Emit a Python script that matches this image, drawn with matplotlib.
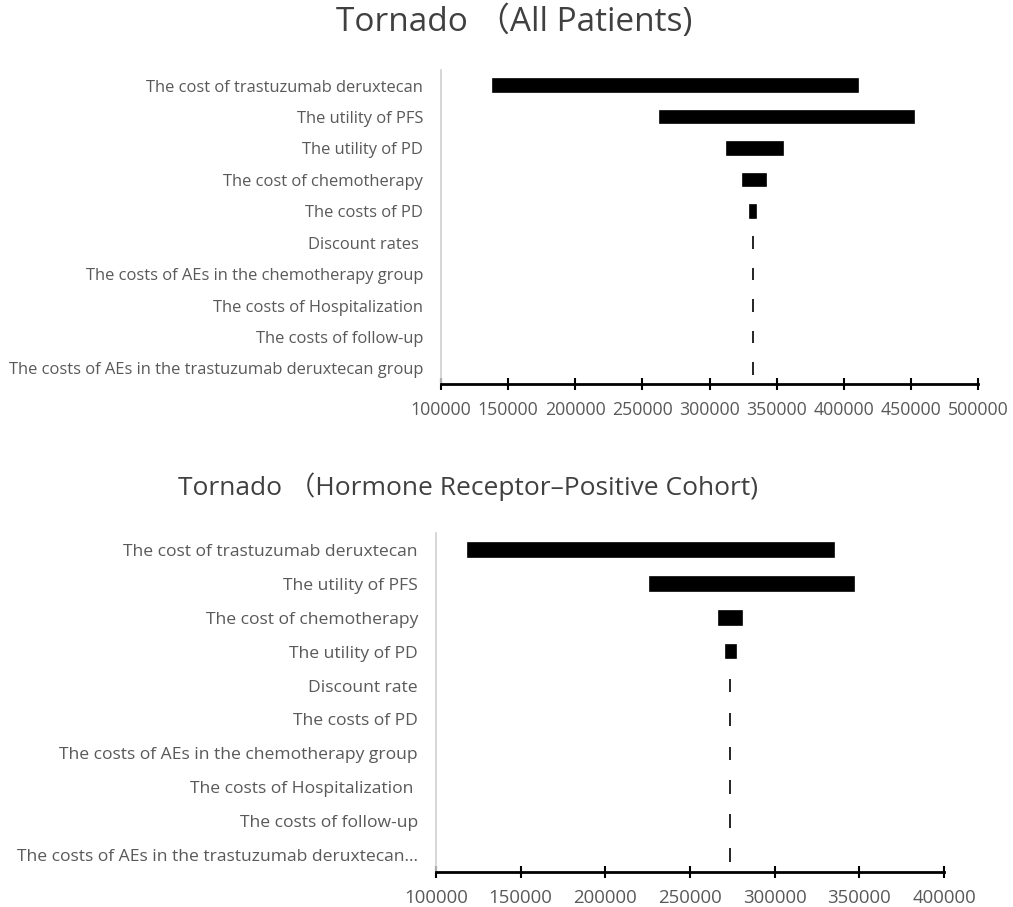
import matplotlib.pyplot as plt
import numpy as np

plt.rcParams['font.family'] = ['Open Sans', 'Noto Sans CJK SC', 'DejaVu Sans']

# All patients
labels_all = ['The cost of trastuzumab deruxtecan', 'The utility of PFS', 'The utility of PD',
              'The cost of chemotherapy', 'The costs of PD', 'Discount rates ',
              'The costs of AEs in the chemotherapy group', 'The costs of Hospitalization',
              'The costs of follow-up', 'The costs of AEs in the trastuzumab deruxtecan group']
low_all = [138800, 262900, 313200, 324600, 330400, 332500, 332600, 332600, 332600, 332600]
high_all = [410400, 452200, 355100, 341900, 334700, 332500, 332600, 332600, 332600, 332600]
ticks_all = [100000, 150000, 200000, 250000, 300000, 350000, 400000, 450000, 500000]

# Hormone receptor-positive cohort
labels_hr = ['The cost of trastuzumab deruxtecan', 'The utility of PFS', 'The cost of chemotherapy',
             'The utility of PD', 'Discount rate', 'The costs of PD',
             'The costs of AEs in the chemotherapy group', 'The costs of Hospitalization ',
             'The costs of follow-up', 'The costs of AEs in the trastuzumab deruxtecan...']
low_hr = [118800, 226200, 267200, 271200, 273700, 273700, 273800, 273800, 273800, 273800]
high_hr = [335300, 346900, 280600, 277200, 273700, 273700, 273800, 273800, 273800, 273800]
ticks_hr = [100000, 150000, 200000, 250000, 300000, 350000, 400000]

grey = '#595959'
W, H = 1013, 907
fig = plt.figure(figsize=(W / 100, H / 100), dpi=100)


def tornado(rect, labels, low, high, ticks, title, title_x, title_y, title_size, fs, tfs):
    ax = fig.add_axes(rect)
    y = np.arange(len(labels))
    width = np.array(high) - np.array(low)
    ax.barh(y, width, left=low, height=0.4, color='black', edgecolor='black', linewidth=1.2)
    ax.set_ylim(len(labels) - 0.5, -0.5)
    ax.set_xlim(ticks[0], ticks[-1])
    ax.set_yticks(y)
    ax.set_yticklabels(labels, fontsize=fs, color=grey)
    ax.set_xticks(ticks)
    ax.set_xticklabels([str(t) for t in ticks], fontsize=tfs, color=grey)
    ax.tick_params(axis='y', length=0, pad=13)
    ax.tick_params(axis='x', direction='inout', length=9, width=1.5, color='black', pad=8)
    for s in ['top', 'right']:
        ax.spines[s].set_visible(False)
    ax.spines['left'].set_color('#d0d0d0')
    ax.spines['left'].set_linewidth(1.2)
    ax.spines['bottom'].set_color('black')
    ax.spines['bottom'].set_linewidth(2)
    fig.text(title_x, title_y, title, fontsize=title_size, color='#404040',
             ha='center', va='center')
    return ax


tornado([441 / W, 1 - 384 / H, 537 / W, (384 - 70) / H], labels_all, low_all, high_all,
        ticks_all, 'Tornado （All Patients)', 514 / W, 1 - 22 / H, 24, 11.9, 12.8)
tornado([436 / W, 1 - 872 / H, 508 / W, (872 - 533) / H], labels_hr, low_hr, high_hr,
        ticks_hr, 'Tornado （Hormone Receptor–Positive Cohort)', 468 / W, 1 - 487 / H, 19,
        12.6, 13.4)

fig.savefig('out.png', dpi=100)
